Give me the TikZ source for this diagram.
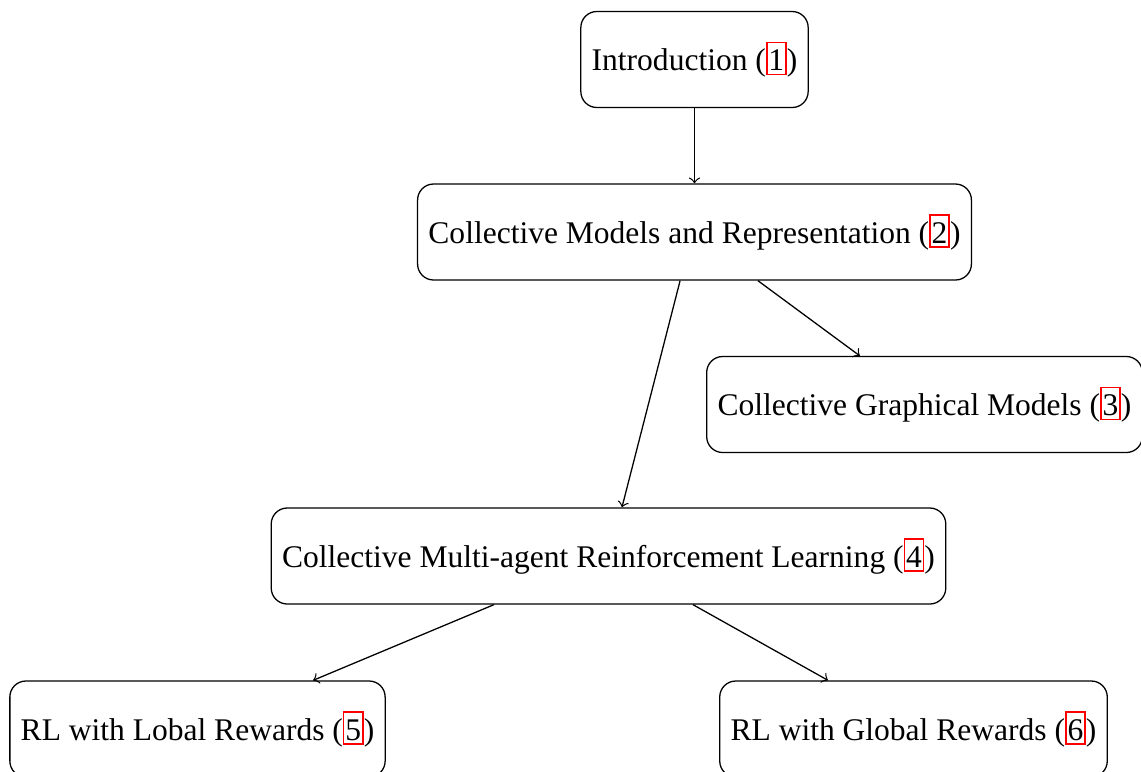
\documentclass[tikz,border=0pt]{standalone}
\usepackage{fontspec}
\setmainfont{Liberation Serif}
\usetikzlibrary{calc}

% red link frame around a section number
\newcommand{\secref}[1]{{\setlength{\fboxsep}{0.3pt}\setlength{\fboxrule}{0.5pt}\color{red}\fbox{\color{black}\rule[-0.6pt]{0pt}{8.9pt}#1}}}

\tikzset{
  part/.style={draw, rounded corners=5pt, minimum height=30pt, inner xsep=3.4pt, line width=0.4pt},
  link/.style={->, line width=0.4pt}
}

\begin{document}
\begin{tikzpicture}[x=0.3125pt, y=-0.3125pt]
\useasboundingbox (0,0) rectangle (1141,771);
\fontsize{9.85}{12}\selectfont

\node[part] (intro) at (694.5,59.5) {Introduction (\secref{1})};
\node[part] (cmr)   at (694.5,232)  {Collective Models and Representation (\secref{2})};
\node[part] (cgm)   at (924.5,404.5) {Collective Graphical Models (\secref{3})};
\node[part] (marl)  at (608.5,556)  {Collective Multi-agent Reinforcement Learning (\secref{4})};
\node[part] (lobal) at (197.5,729)  {RL with Lobal Rewards (\secref{5})};
\node[part] (glob)  at (913.5,729)  {RL with Global Rewards (\secref{6})};

\draw[link] (intro.south) -- (cmr.north);
\draw[link] ([xshift=-4.5pt]cmr.south) -- ([xshift=4.2pt]marl.north);
\draw[link] ([xshift=19.8pt]cmr.south) -- ([xshift=-20.2pt]cgm.north);
\draw[link] ([xshift=-35.8pt]marl.south) -- ([xshift=36.1pt]lobal.north);
\draw[link] ([xshift=26.4pt]marl.south) -- ([xshift=-26.7pt]glob.north);
\end{tikzpicture}
\end{document}
